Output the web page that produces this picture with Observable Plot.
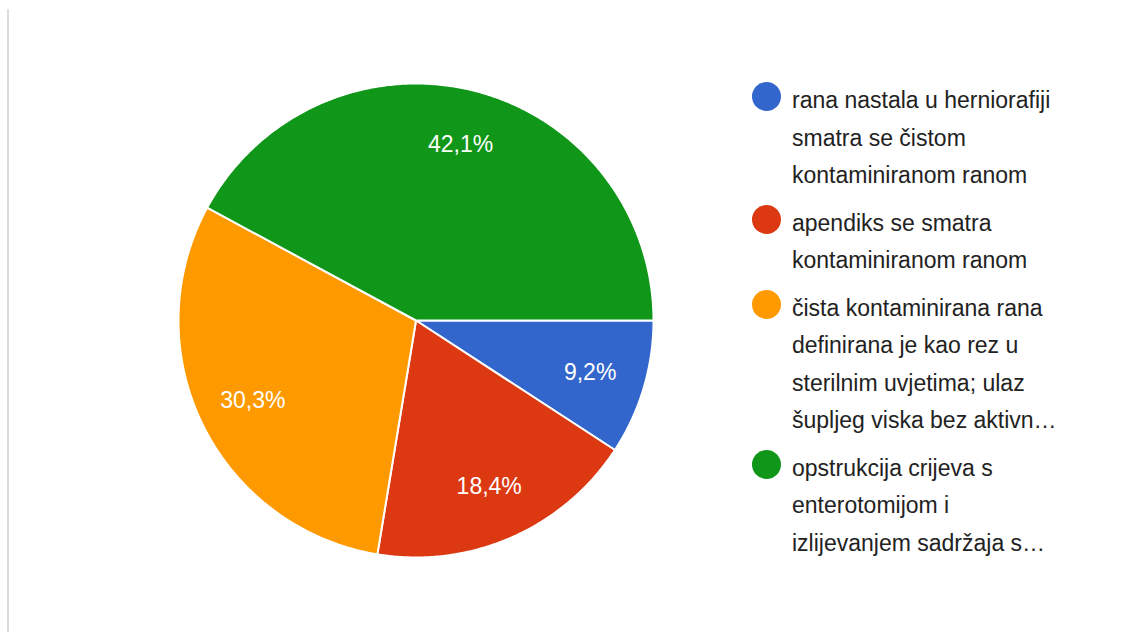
<!DOCTYPE html>
<html><head><meta charset="utf-8">
<script src="https://cdn.jsdelivr.net/npm/d3@7"></script>
<script src="https://cdn.jsdelivr.net/npm/@observablehq/plot@0.6"></script>
<style>
body{margin:0;background:#fff;}
#wrap{position:relative;width:1137px;height:632px;overflow:hidden;font-family:"Liberation Sans",Arial,sans-serif;background:#fff;}
#border{position:absolute;left:7px;top:9px;width:2px;height:623px;background:#dcdcdc;}
#chart{position:absolute;left:0;top:0;}
#legend{position:absolute;left:752px;top:82px;}
.item{display:flex;align-items:flex-start;margin-bottom:10px;}
.sw{width:29px;height:29px;border-radius:50%;flex:none;margin-top:0px;margin-right:11px;}
.txt{font-size:23px;line-height:37.5px;color:#222;white-space:nowrap;}
</style>
</head><body>
<div id="wrap"><div id="chart"></div><div id="border"></div><div id="legend"></div></div>
<script>
const categories = [
  "rana nastala u herniorafiji smatra se čistom kontaminiranom ranom",
  "apendiks se smatra kontaminiranom ranom",
  "čista kontaminirana rana definirana je kao rez u sterilnim uvjetima; ulaz šupljeg viska bez aktivn…",
  "opstrukcija crijeva s enterotomijom i izlijevanjem sadržaja s…"
];
const legendLines = [
  ["rana nastala u herniorafiji", "smatra se čistom", "kontaminiranom ranom"],
  ["apendiks se smatra", "kontaminiranom ranom"],
  ["čista kontaminirana rana", "definirana je kao rez u", "sterilnim uvjetima; ulaz", "šupljeg viska bez aktivn…"],
  ["opstrukcija crijeva s", "enterotomijom i", "izlijevanjem sadržaja s…"]
];
const values = [9.2, 18.4, 30.3, 42.1];
const valueLabels = ["9,2%", "18,4%", "30,3%", "42,1%"];
const colors = ["#3366cc", "#dc3912", "#ff9900", "#109618"];

// angles measured clockwise from 3 o'clock
const arcs = d3.pie().sort(null).startAngle(0).endAngle(2 * Math.PI)(values);
const slicePts = [];
arcs.forEach((a, i) => {
  const k = categories[i];
  slicePts.push({x: 0, y: 0, k});
  const n = Math.max(2, Math.ceil((a.endAngle - a.startAngle) / (Math.PI / 360)));
  for (let j = 0; j <= n; j++) {
    const t = a.startAngle + (a.endAngle - a.startAngle) * j / n;
    slicePts.push({x: Math.cos(t), y: -Math.sin(t), k});
  }
});
const labelPts = arcs.map((a, i) => {
  const m = (a.startAngle + a.endAngle) / 2;
  return {x: 0.765 * Math.cos(m), y: -0.765 * Math.sin(m), label: valueLabels[i]};
});

const chart = Plot.plot({
  width: 1137,
  height: 632,
  margin: 0,
  style: {fontFamily: "'Liberation Sans', Arial, sans-serif", background: "transparent"},
  x: {domain: [-1, 1], range: [178, 653], axis: null},
  y: {domain: [-1, 1], range: [557, 83], axis: null},
  color: {domain: categories, range: colors},
  marks: [
    Plot.line(slicePts, {x: "x", y: "y", z: "k", fill: "k", stroke: "white", strokeWidth: 2, curve: "linear-closed"}),
    Plot.text(labelPts, {x: "x", y: "y", text: "label", fill: "white", fontSize: 23, textAnchor: "middle", lineAnchor: "middle"})
  ]
});
document.getElementById("chart").appendChild(chart);

const legend = document.getElementById("legend");
legendLines.forEach((lines, i) => {
  const item = document.createElement("div");
  item.className = "item";
  const sw = document.createElement("div");
  sw.className = "sw";
  sw.style.background = colors[i];
  const txt = document.createElement("div");
  txt.className = "txt";
  lines.forEach(l => { const d = document.createElement("div"); d.textContent = l; txt.appendChild(d); });
  item.appendChild(sw);
  item.appendChild(txt);
  legend.appendChild(item);
});
</script>
</body></html>
